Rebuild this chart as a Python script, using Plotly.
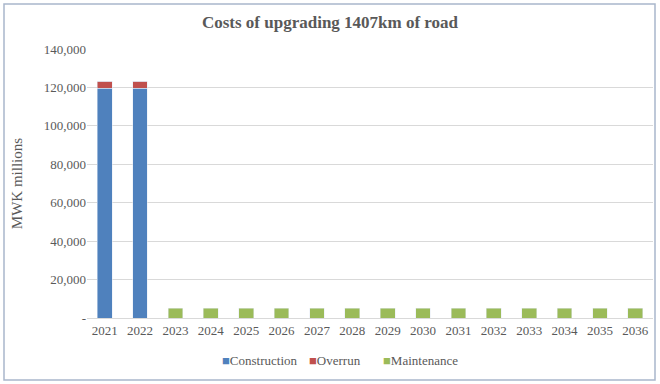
import plotly.graph_objects as go

years = [str(y) for y in range(2021, 2037)]
construction = [119500, 119500] + [0] * 14
overrun = [3800, 3800] + [0] * 14
maintenance = [0, 0] + [5000] * 14

ytick_vals = [0, 20000, 40000, 60000, 80000, 100000, 120000, 140000]
ytick_text = ["-", "20,000", "40,000", "60,000", "80,000", "100,000", "120,000", "140,000"]

legend_names = ["Construction", "Overrun", "Maintenance"]
colors = ["#4F81BD", "#C0504D", "#9BBB59"]

font_family = "Liberation Serif, Times New Roman, serif"
grey = "#595959"

fig = go.Figure()
for name, vals, c in zip(legend_names, [construction, overrun, maintenance], colors):
    fig.add_bar(x=years, y=vals, name=name, marker_color=c, showlegend=False)

L, R, T, B = 87, 7, 49, 66
W, H = 660, 384
pw, ph = W - L - R, H - T - B

fig.update_layout(
    width=W, height=H,
    barmode="stack", bargap=0.58,
    margin=dict(l=L, r=R, t=T, b=B),
    paper_bgcolor="white", plot_bgcolor="white",
    font=dict(family=font_family, size=13, color=grey),
    title=dict(text="<b>Costs of upgrading 1407km of road</b>", x=0.5, xanchor="center",
               y=1 - 22 / H, yanchor="middle",
               font=dict(family=font_family, size=17, color=grey)),
    xaxis=dict(showgrid=False, showline=True, linecolor="#D9D9D9", linewidth=1,
               ticks="", tickfont=dict(size=13, color=grey)),
    yaxis=dict(range=[0, 140000], tickvals=ytick_vals, ticktext=ytick_text,
               showgrid=True, gridcolor="#D9D9D9", gridwidth=1, zeroline=False,
               ticks="", ticklen=0, tickfont=dict(size=13, color=grey),
               title=dict(text="MWK millions", font=dict(size=15, color=grey), standoff=17)),
)

# legend drawn as text entries with coloured squares
legend_x = [220, 307, 381]
for name, c, px in zip(legend_names, colors, legend_x):
    fig.add_annotation(
        xref="paper", yref="paper",
        x=(px - L) / pw, xanchor="left",
        y=-(360 - (H - B)) / ph, yanchor="middle",
        text=f"<span style='color:{c}'>■</span>{name}",
        showarrow=False, font=dict(size=13, color=grey),
    )

fig.add_shape(type="rect", xref="paper", yref="paper",
              x0=(4 - L) / pw, x1=(655 - L) / pw,
              y0=((H - B) - 380) / ph, y1=((H - B) - 4) / ph,
              line=dict(color="#A9B7CB", width=1.5), fillcolor="rgba(0,0,0,0)", layer="below")

fig.write_html("out.html", config={"displayModeBar": False},
               post_script="document.body.style.margin='0px';")
